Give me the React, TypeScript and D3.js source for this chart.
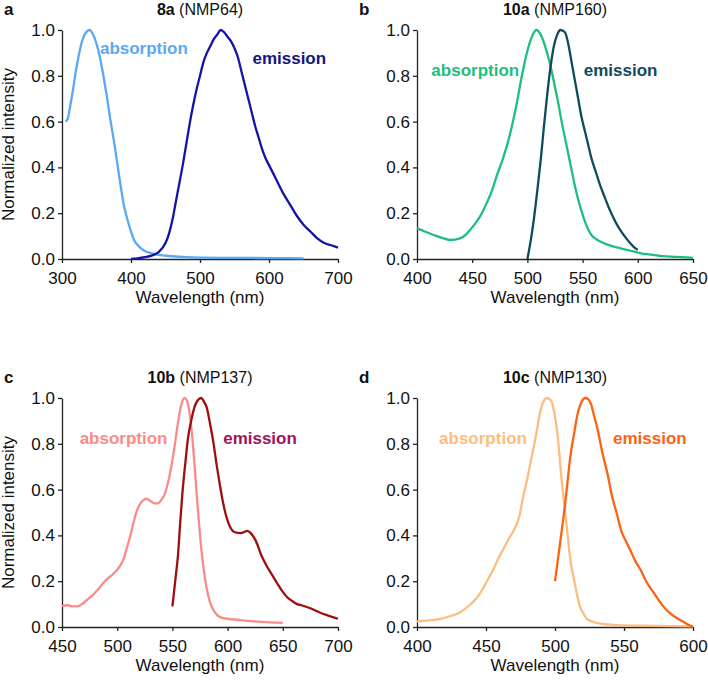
import React, { useEffect, useRef } from "react";
import * as d3 from "d3";

const W = 708, H = 682;
const plotW = 276, plotH = 229;
const margin = { left: 62, top: 30 };
const font = "'Liberation Sans', Arial, sans-serif";

// [wavelength nm, normalized intensity]
const abs8a = [[305,0.60],[308,0.61],[312,0.67],[316,0.74],[320,0.82],[325,0.90],[330,0.96],[335,0.99],[340,1.00],[345,0.98],[350,0.94],[355,0.88],[360,0.80],[365,0.71],[370,0.61],[375,0.52],[380,0.42],[385,0.32],[390,0.23],[395,0.17],[400,0.12],[405,0.08],[410,0.06],[415,0.045],[420,0.035],[430,0.025],[440,0.018],[460,0.012],[480,0.008],[500,0.006],[550,0.005],[600,0.004],[650,0.003]];
const em8a = [[400,0.0],[410,0.003],[420,0.008],[430,0.015],[440,0.03],[450,0.07],[455,0.11],[460,0.17],[465,0.25],[470,0.33],[475,0.41],[480,0.50],[485,0.59],[490,0.67],[495,0.74],[500,0.80],[505,0.86],[510,0.90],[515,0.93],[520,0.96],[525,0.98],[530,1.00],[535,0.99],[540,0.97],[545,0.95],[550,0.92],[555,0.88],[560,0.82],[565,0.76],[570,0.70],[575,0.64],[580,0.58],[585,0.53],[590,0.48],[595,0.44],[600,0.41],[610,0.35],[620,0.29],[630,0.24],[640,0.19],[650,0.15],[660,0.12],[670,0.09],[680,0.07],[690,0.06],[700,0.05]];

const abs10a = [[400,0.134],[407,0.12],[415,0.105],[422,0.093],[430,0.083],[439,0.09],[444,0.105],[448,0.127],[452,0.15],[457,0.185],[463,0.243],[468,0.30],[472,0.36],[478,0.44],[484,0.54],[490,0.67],[495,0.80],[499,0.89],[504,0.97],[508,1.0],[512,0.98],[516,0.93],[519,0.88],[522,0.82],[525,0.75],[528,0.68],[531,0.60],[534,0.53],[537,0.46],[540,0.39],[543,0.32],[546,0.26],[549,0.21],[552,0.165],[555,0.13],[558,0.105],[562,0.088],[566,0.076],[572,0.064],[578,0.054],[584,0.047],[590,0.04],[597,0.032],[603,0.025],[610,0.02],[615,0.017],[622,0.013],[630,0.01],[640,0.008],[650,0.005]];
const em10a = [[500,0.0],[503,0.08],[506,0.18],[509,0.30],[512,0.43],[515,0.58],[518,0.72],[521,0.84],[524,0.93],[527,0.98],[530,1.0],[534,0.99],[537,0.94],[540,0.86],[543,0.78],[546,0.70],[549,0.62],[552,0.56],[555,0.50],[558,0.44],[562,0.38],[566,0.32],[570,0.27],[575,0.21],[580,0.16],[584,0.127],[588,0.10],[593,0.07],[597,0.05],[600,0.04]];

const abs10b = [[450,0.092],[455,0.095],[460,0.09],[464,0.09],[468,0.10],[473,0.12],[478,0.14],[482,0.16],[487,0.19],[491,0.21],[496,0.23],[500,0.25],[503,0.27],[506,0.30],[509,0.35],[512,0.40],[515,0.46],[518,0.51],[521,0.54],[524,0.555],[527,0.56],[530,0.55],[534,0.54],[537,0.54],[540,0.555],[543,0.58],[546,0.63],[549,0.70],[552,0.79],[555,0.89],[558,0.97],[561,1.0],[563,0.99],[566,0.92],[568,0.83],[570,0.71],[572,0.58],[574,0.46],[576,0.35],[579,0.23],[581,0.17],[584,0.11],[587,0.075],[591,0.05],[595,0.04],[600,0.036],[612,0.03],[630,0.022],[650,0.018]];
const em10b = [[550,0.09],[553,0.22],[555,0.31],[557,0.45],[559,0.58],[562,0.73],[564,0.82],[567,0.90],[570,0.96],[573,0.99],[576,1.0],[579,0.98],[581,0.96],[584,0.89],[587,0.81],[590,0.71],[593,0.62],[596,0.54],[599,0.48],[602,0.44],[606,0.415],[612,0.41],[618,0.42],[621,0.41],[624,0.39],[627,0.36],[630,0.32],[635,0.27],[640,0.23],[645,0.19],[649,0.16],[654,0.13],[658,0.115],[663,0.10],[667,0.095],[673,0.085],[679,0.073],[685,0.06],[691,0.05],[696,0.042],[700,0.036]];

const abs10c = [[400,0.025],[407,0.028],[414,0.032],[420,0.04],[424,0.047],[430,0.06],[434,0.076],[438,0.095],[441,0.112],[445,0.14],[448,0.17],[452,0.215],[456,0.26],[459,0.30],[463,0.345],[467,0.39],[470,0.42],[474,0.48],[477,0.57],[480,0.65],[482,0.71],[486,0.83],[489,0.93],[491,0.975],[494,1.0],[497,0.99],[499,0.95],[502,0.83],[505,0.63],[507,0.52],[509,0.41],[511,0.30],[514,0.20],[516,0.14],[518,0.09],[521,0.055],[523,0.036],[527,0.024],[531,0.017],[540,0.01],[548,0.007],[570,0.005],[600,0.003]];
const em10c = [[500,0.20],[502,0.29],[504,0.38],[507,0.52],[509,0.63],[511,0.74],[514,0.85],[516,0.92],[519,0.98],[522,1.0],[524,0.995],[526,0.975],[528,0.93],[531,0.86],[534,0.77],[538,0.67],[541,0.58],[545,0.49],[548,0.42],[551,0.38],[555,0.33],[558,0.29],[562,0.25],[566,0.20],[572,0.146],[576,0.11],[581,0.073],[586,0.048],[591,0.029],[595,0.015],[600,0.0]];

const ticksA = [300, 400, 500, 600, 700];
const ticksB = [400, 450, 500, 550, 600, 650];
const ticksC = [450, 500, 550, 600, 650, 700];
const ticksD = [400, 450, 500, 550, 600];
const yTicks = [0, 0.2, 0.4, 0.6, 0.8, 1.0];

const panels = [
  { letter: "a", code: "8a", name: " (NMP64)", dx: 0, dy: 0, ticks: ticksA, abs: abs8a, em: em8a,
    absColor: "#5aa8f6", emColor: "#1414a6", emText: "#14147e", absAt: [355, 0.895], emAt: [576, 0.85], yTitle: true },
  { letter: "b", code: "10a", name: " (NMP160)", dx: 355, dy: 0, ticks: ticksB, abs: abs10a, em: em10a,
    absColor: "#1dbf7f", emColor: "#0e4b5e", emText: "#0e4b5e", absAt: [413, 0.8], emAt: [551, 0.8], yTitle: false },
  { letter: "c", code: "10b", name: " (NMP137)", dx: 0, dy: 368, ticks: ticksC, abs: abs10b, em: em10b,
    absColor: "#fa8b8b", emColor: "#9e0f0f", emText: "#9e1458", absAt: [466, 0.8], emAt: [596, 0.8], yTitle: true },
  { letter: "d", code: "10c", name: " (NMP130)", dx: 355, dy: 368, ticks: ticksD, abs: abs10c, em: em10c,
    absColor: "#fdbd80", emColor: "#fa6412", emText: "#fa6412", absAt: [416, 0.8], emAt: [542, 0.8], yTitle: false },
];

export default function App() {
  const ref = useRef<SVGSVGElement>(null);

  useEffect(() => {
    const svg = d3.select(ref.current);
    svg.selectAll("*").remove();

    panels.forEach(p => {
      const g = svg.append("g")
        .attr("transform", `translate(${p.dx + margin.left},${p.dy + margin.top})`)
        .style("font-family", font);

      const x = d3.scaleLinear().domain([p.ticks[0], p.ticks[p.ticks.length - 1]]).range([0, plotW]);
      const y = d3.scaleLinear().domain([0, 1]).range([plotH, 0]);

      const xAxis = g.append("g")
        .attr("transform", `translate(0,${plotH})`)
        .call(d3.axisBottom(x).tickValues(p.ticks).tickSize(4).tickSizeOuter(0).tickPadding(9));
      const yAxis = g.append("g")
        .call(d3.axisLeft(y).tickValues(yTicks).tickFormat(d3.format(".1f")).tickSize(4).tickSizeOuter(0).tickPadding(3));

      [xAxis, yAxis].forEach(a => {
        a.select(".domain").attr("stroke", "#222").attr("stroke-width", 1.3);
        a.selectAll(".tick line").attr("stroke", "#222").attr("stroke-width", 1.3);
        a.selectAll(".tick text").attr("font-size", 17).attr("font-family", font).attr("fill", "#111");
      });

      const line = d3.line<number[]>()
        .x(d => x(d[0]))
        .y(d => y(d[1]))
        .curve(d3.curveMonotoneX);

      g.append("path").datum(p.abs).attr("d", line)
        .attr("fill", "none").attr("stroke", p.absColor).attr("stroke-width", 2.3);
      g.append("path").datum(p.em).attr("d", line)
        .attr("fill", "none").attr("stroke", p.emColor).attr("stroke-width", 2.3);

      g.append("text").attr("x", x(p.absAt[0])).attr("y", y(p.absAt[1]))
        .attr("font-size", 17).attr("font-weight", "bold").attr("fill", p.absColor).text("absorption");
      g.append("text").attr("x", x(p.emAt[0])).attr("y", y(p.emAt[1]))
        .attr("font-size", 17).attr("font-weight", "bold").attr("fill", p.emText).text("emission");

      // panel letter + title
      g.append("text").attr("x", -58).attr("y", -15)
        .attr("font-size", 17).attr("font-weight", "bold").attr("fill", "#111").text(p.letter);
      const t = g.append("text").attr("x", plotW / 2).attr("y", -15)
        .attr("text-anchor", "middle").attr("font-size", 16).attr("fill", "#111");
      t.append("tspan").attr("font-weight", "bold").text(p.code);
      t.append("tspan").text(p.name);

      g.append("text").attr("x", plotW / 2).attr("y", plotH + 44)
        .attr("text-anchor", "middle").attr("font-size", 17).attr("fill", "#111")
        .text("Wavelength (nm)");

      if (p.yTitle) {
        g.append("text")
          .attr("transform", `translate(-48,${plotH / 2}) rotate(-90)`)
          .attr("text-anchor", "middle").attr("font-size", 17).attr("fill", "#111")
          .text("Normalized  intensity");
      }
    });
  }, []);

  return (
    <svg ref={ref} width={W} height={H}
      style={{ position: "absolute", left: 0, top: 0, background: "#fff" }} />
  );
}
